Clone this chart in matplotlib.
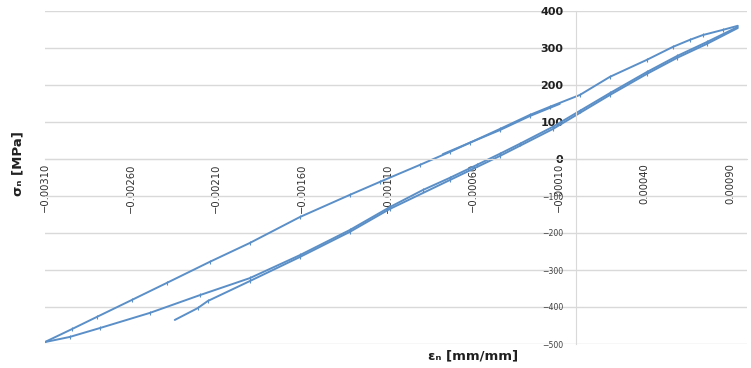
import matplotlib
matplotlib.use("Agg")
import matplotlib.pyplot as plt
from matplotlib.ticker import FixedLocator, FuncFormatter

# initial loading (start -> peak)
load_strain = [-0.002342, -0.002208, -0.00215, -0.001904, -0.001612, -0.00132, -0.001086,
               -0.000736, -0.000444, -0.000134, 0.000199, 0.000415, 0.00059, 0.000765, 0.000946]
load_stress = [-435, -403, -384, -330, -265, -197, -135, -57, 8, 81, 173, 230, 273, 311, 354]

# unloading (peak -> minimum)
unload_strain = [0.000946, 0.000859, 0.000742, 0.000666, 0.000567, 0.000415, 0.000199, 0.0000234,
                 -0.000152, -0.000269, -0.000444, -0.000736, -0.000911, -0.001145, -0.00132,
                 -0.001612, -0.001904, -0.002138, -0.002389, -0.002593, -0.002798, -0.002944, -0.003102]
unload_stress = [360, 349, 335, 322, 303, 268, 222, 173, 141, 119, 81, 19, -16, -62, -97,
                 -157, -227, -278, -335, -381, -427, -460, -495]

# reloading (minimum -> peak)
reload_strain = [-0.003102, -0.002956, -0.00278, -0.002488, -0.002196, -0.001904, -0.001612,
                 -0.00132, -0.001086, -0.000894, -0.000736, -0.000578, -0.000444, -0.000327,
                 -0.000134, 0.0000234, 0.000199, 0.000415, 0.00059, 0.000765, 0.000946]
reload_stress = [-495, -481, -457, -416, -368, -322, -260, -192, -130, -84, -51, -16, 14, 41,
                 87, 130, 178, 235, 278, 316, 357]

# short overlapping piece on the upper branch
extra_strain = [-0.000777, -0.000619, -0.000444, -0.000269, -0.0000935]
extra_stress = [13, 44, 78, 116, 149]

x_ticks = [-0.0031, -0.0026, -0.0021, -0.0016, -0.0011, -0.0006, -0.0001, 0.0004, 0.0009]
y_ticks = [400, 300, 200, 100, 0, -100, -200, -300, -400, -500]

color = "#5b8fc7"

fig = plt.figure(figsize=(7.51, 3.68), dpi=100)
ax = fig.add_axes([45 / 751, 1 - 344 / 368, 702 / 751, 333 / 368])

for xs, ys in [(load_strain, load_stress), (unload_strain, unload_stress),
               (reload_strain, reload_stress), (extra_strain, extra_stress)]:
    ax.plot(xs, ys, color=color, lw=1.4, marker="|", ms=3, mew=0.8,
            markevery=slice(1, -1), solid_capstyle="round")

ax.set_xlim(-0.0031, 0.001)
ax.set_ylim(-500, 400)

ax.spines["top"].set_visible(False)
ax.spines["right"].set_visible(False)
ax.spines["left"].set_position(("data", 0))
ax.spines["bottom"].set_position(("data", 0))
ax.spines["left"].set_color("#d9d9d9")
ax.spines["bottom"].set_color("#d9d9d9")

ax.xaxis.set_major_locator(FixedLocator(x_ticks))
ax.xaxis.set_major_formatter(FuncFormatter(lambda v, p: f"{v:.5f}".replace("-", "\u2212")))
ax.yaxis.set_major_locator(FixedLocator(y_ticks))
ax.yaxis.set_major_formatter(FuncFormatter(lambda v, p: f"{v:.0f}".replace("-", "\u2212")))

ax.tick_params(axis="x", length=0, pad=3, labelsize=7.2, labelrotation=90, labelcolor="#303030")
ax.tick_params(axis="y", length=0, pad=9, labelsize=8, labelcolor="#202020")
for lab, v in zip(ax.get_yticklabels(), y_ticks):
    if v >= 0:
        lab.set_fontweight("bold")
    else:
        lab.set_fontsize(5.6)
        lab.set_color("#404040")

ax.yaxis.grid(True, color="#d9d9d9", lw=1)
ax.set_axisbelow(True)

fig.text(0.024, 0.555, "σₙ [MPa]", rotation=90, ha="center", va="center",
         fontsize=9.5, fontweight="bold", color="#202020")
fig.text(0.63, 0.033, "εₙ [mm/mm]", ha="center", va="center",
         fontsize=9.5, fontweight="bold", color="#202020")

fig.savefig("out.png", dpi=100)
